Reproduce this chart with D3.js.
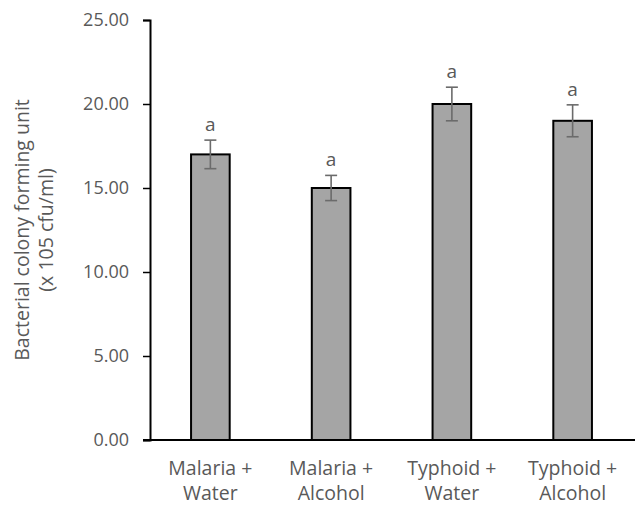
<!DOCTYPE html>
<html><head><meta charset="utf-8">
<script src="https://cdn.jsdelivr.net/npm/d3@7"></script>
<style>body{margin:0;background:#fff}text{font-family:"Open Sans",sans-serif;fill:#595959}</style>
</head><body>
<svg id="c" width="635" height="510"></svg>
<script>
const categories = [["Malaria +","Water"],["Malaria +","Alcohol"],["Typhoid +","Water"],["Typhoid +","Alcohol"]];
const values = [17.0, 15.0, 20.0, 19.0];
const errors = [0.85, 0.75, 1.0, 0.95];
const letters = ["a","a","a","a"];
const yTicks = [0,5,10,15,20,25];
const yTitle = ["Bacterial colony forming unit","(x 105 cfu/ml)"];

(function(){
const svg = d3.select("#c");
const mLeft = 150, mRight = 633, mTop = 20, mBottom = 440;
const keys = categories.map((c,i)=>i);
const x = d3.scaleBand().domain(keys).range([mLeft,mRight]).paddingInner(0.68).paddingOuter(0.34);
const y = d3.scaleLinear().domain([0,25]).range([mBottom,mTop]);

const ya = svg.append("g").attr("transform",`translate(${mLeft},0)`)
  .call(d3.axisLeft(y).tickValues(yTicks).tickSize(7).tickPadding(14).tickFormat(d3.format(".2f")));
ya.select(".domain").attr("stroke","#000").attr("stroke-width",2);
ya.selectAll(".tick line").attr("stroke","#000").attr("stroke-width",1.5);
ya.selectAll(".tick text").attr("font-size",18).attr("fill","#595959").style("font-family","Open Sans");

svg.append("g").selectAll("rect").data(values).join("rect")
  .attr("x",(d,i)=>x(i)).attr("y",d=>y(d))
  .attr("width",x.bandwidth()).attr("height",d=>y(0)-y(d))
  .attr("fill","#a5a5a5").attr("stroke","#000").attr("stroke-width",2);

svg.append("line").attr("x1",mLeft-7).attr("x2",635).attr("y1",y(0)).attr("y2",y(0))
  .attr("stroke","#000").attr("stroke-width",2);

const eg = svg.append("g").attr("stroke","#6b6b6b").attr("stroke-width",1.6);
values.forEach((v,i)=>{
  const cx = x(i)+x.bandwidth()/2;
  eg.append("line").attr("x1",cx).attr("x2",cx).attr("y1",y(v+errors[i])).attr("y2",y(v-errors[i]));
  eg.append("line").attr("x1",cx-6).attr("x2",cx+6).attr("y1",y(v+errors[i])).attr("y2",y(v+errors[i]));
  eg.append("line").attr("x1",cx-6).attr("x2",cx+6).attr("y1",y(v-errors[i])).attr("y2",y(v-errors[i]));
});

svg.append("g").selectAll("text").data(letters).join("text")
  .attr("x",(d,i)=>x(i)+x.bandwidth()/2).attr("y",(d,i)=>y(values[i]+errors[i])-9)
  .attr("text-anchor","middle").attr("font-size",19).text(d=>d);

const cl = svg.append("g").selectAll("text").data(categories).join("text")
  .attr("text-anchor","middle").attr("font-size",19.5)
  .attr("x",(d,i)=>x(i)+x.bandwidth()/2).attr("y",475);
cl.selectAll("tspan").data(d=>d).join("tspan")
  .attr("x",function(){return this.parentNode.getAttribute("x");})
  .attr("dy",(d,j)=>j===0?0:25).text(d=>d);

const yt = svg.append("text").attr("transform","translate(29,230) rotate(-90)")
  .attr("text-anchor","middle").attr("font-size",19.5);
yt.selectAll("tspan").data(yTitle).join("tspan").attr("x",0).attr("dy",(d,j)=>j===0?0:24).text(d=>d);
})();
</script>
</body></html>
